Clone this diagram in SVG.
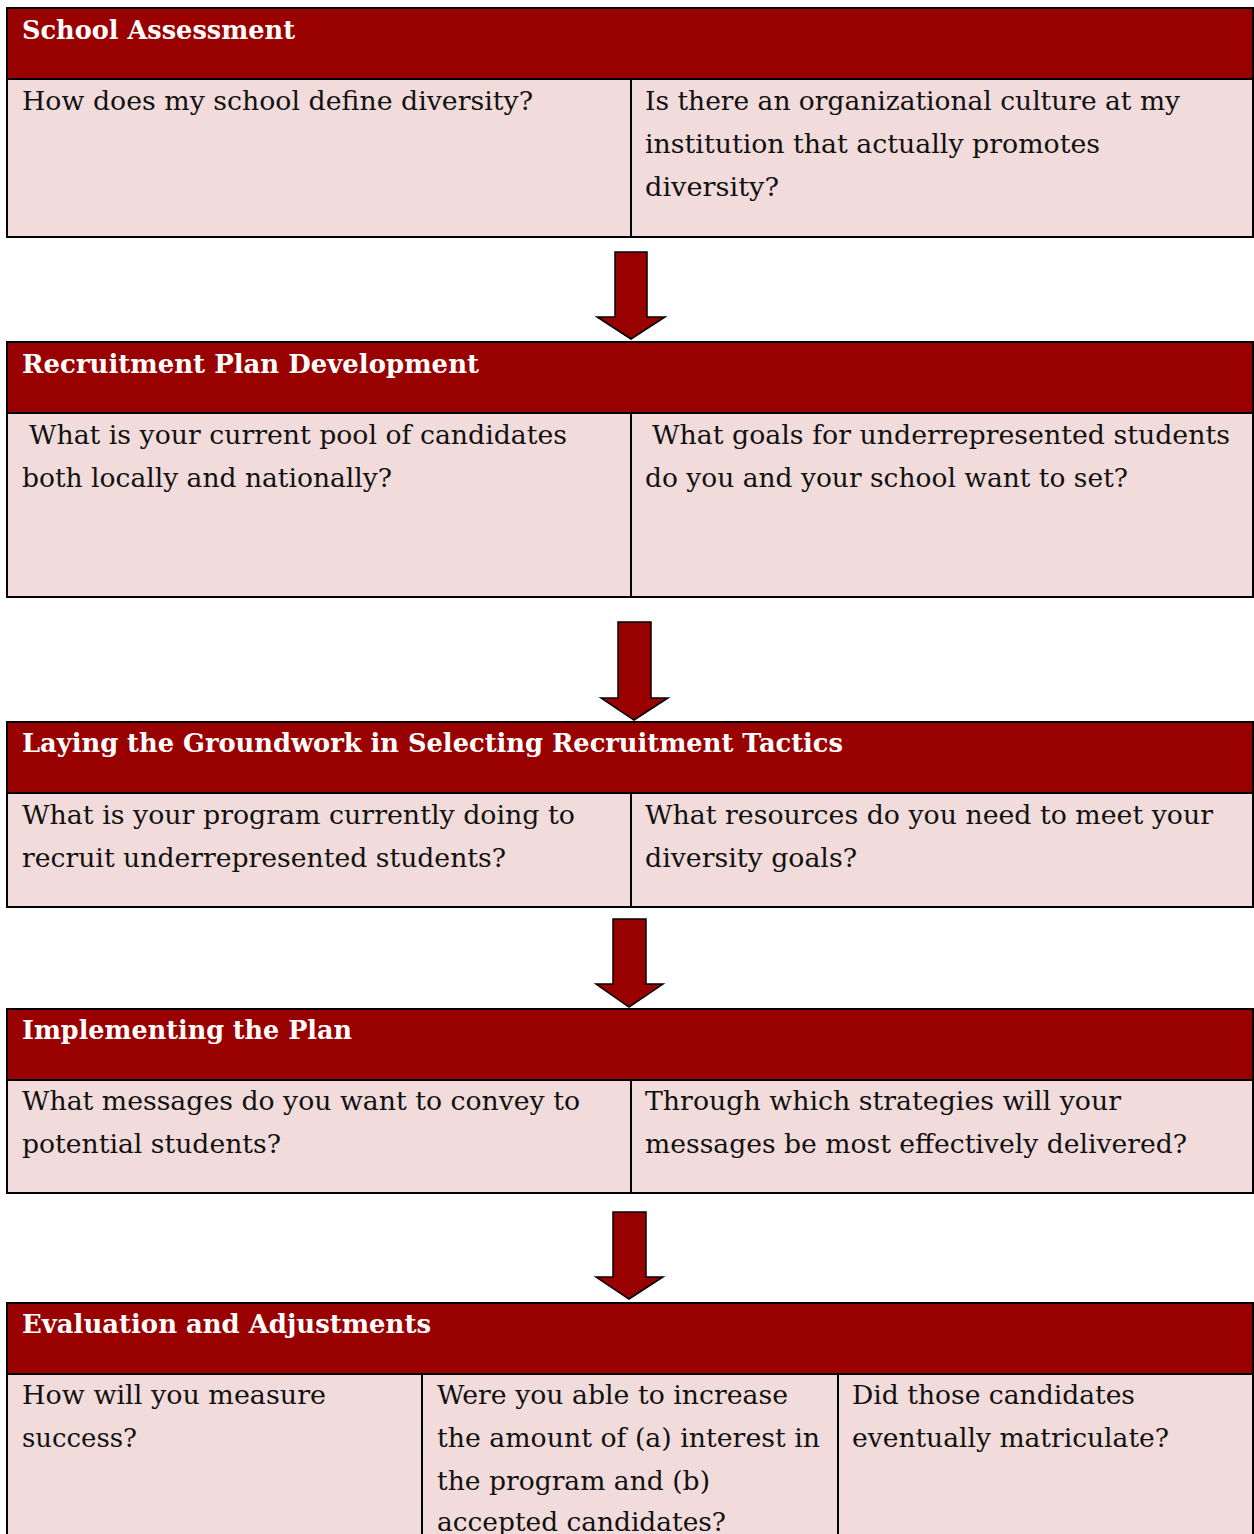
<svg xmlns="http://www.w3.org/2000/svg" width="1254" height="1534" viewBox="0 0 1254 1534">
<style>
.hd{fill:#990000}
.bd{fill:#F2DBDB}
.ln{stroke:#000;stroke-width:2;fill:none}
.ht{font-family:"DejaVu Serif","Liberation Serif",serif;font-weight:bold;font-size:26px;fill:#fff}
.tx{font-family:"DejaVu Serif","Liberation Serif",serif;font-size:26px;fill:#111}
.ar{fill:#990000;stroke:#000;stroke-width:1.5;stroke-linejoin:miter}
</style>
<rect width="1254" height="1534" fill="#fff"/>
<g id="connectors">
<polygon class="ar" points="615,252 647,252 647,317 665,317 631,339 597,317 615,317"/>
<polygon class="ar" points="618,622 651,622 651,698 668,698 634,720 601,698 618,698"/>
<polygon class="ar" points="613,919 646,919 646,984 663,984 629,1007 596,984 613,984"/>
<polygon class="ar" points="613,1212 646,1212 646,1277 663,1277 629,1299 596,1277 613,1277"/>
</g>
<g id="school-assessment">
<rect class="hd" x="7" y="8" width="1246" height="71"/>
<rect class="bd" x="7" y="79" width="1246" height="158"/>
<rect class="ln" x="7" y="8" width="1246" height="229"/>
<line class="ln" x1="7" y1="79" x2="1253" y2="79"/>
<line class="ln" x1="631" y1="79" x2="631" y2="237"/>
<text class="ht" x="22" y="39" textLength="273" lengthAdjust="spacingAndGlyphs">School Assessment</text>
<text class="tx" x="22" y="110" textLength="511" lengthAdjust="spacingAndGlyphs">How does my school define diversity?</text>
<text class="tx" x="645" y="110" textLength="535" lengthAdjust="spacingAndGlyphs">Is there an organizational culture at my</text>
<text class="tx" x="645" y="153" textLength="455" lengthAdjust="spacingAndGlyphs">institution that actually promotes</text>
<text class="tx" x="645" y="196" textLength="134" lengthAdjust="spacingAndGlyphs">diversity?</text>
</g>
<g id="recruitment-plan">
<rect class="hd" x="7" y="342" width="1246" height="71"/>
<rect class="bd" x="7" y="413" width="1246" height="184"/>
<rect class="ln" x="7" y="342" width="1246" height="255"/>
<line class="ln" x1="7" y1="413" x2="1253" y2="413"/>
<line class="ln" x1="631" y1="413" x2="631" y2="597"/>
<text class="ht" x="22" y="373" textLength="457" lengthAdjust="spacingAndGlyphs">Recruitment Plan Development</text>
<text class="tx" x="29" y="444" textLength="538" lengthAdjust="spacingAndGlyphs">What is your current pool of candidates</text>
<text class="tx" x="22" y="487" textLength="370" lengthAdjust="spacingAndGlyphs">both locally and nationally?</text>
<text class="tx" x="652" y="444" textLength="578" lengthAdjust="spacingAndGlyphs">What goals for underrepresented students</text>
<text class="tx" x="645" y="487" textLength="483" lengthAdjust="spacingAndGlyphs">do you and your school want to set?</text>
</g>
<g id="groundwork">
<rect class="hd" x="7" y="722" width="1246" height="71"/>
<rect class="bd" x="7" y="793" width="1246" height="114"/>
<rect class="ln" x="7" y="722" width="1246" height="185"/>
<line class="ln" x1="7" y1="793" x2="1253" y2="793"/>
<line class="ln" x1="631" y1="793" x2="631" y2="907"/>
<text class="ht" x="22" y="752" textLength="821" lengthAdjust="spacingAndGlyphs">Laying the Groundwork in Selecting Recruitment Tactics</text>
<text class="tx" x="22" y="824" textLength="553" lengthAdjust="spacingAndGlyphs">What is your program currently doing to</text>
<text class="tx" x="22" y="867" textLength="484" lengthAdjust="spacingAndGlyphs">recruit underrepresented students?</text>
<text class="tx" x="645" y="824" textLength="568" lengthAdjust="spacingAndGlyphs">What resources do you need to meet your</text>
<text class="tx" x="645" y="867" textLength="212" lengthAdjust="spacingAndGlyphs">diversity goals?</text>
</g>
<g id="implementing">
<rect class="hd" x="7" y="1009" width="1246" height="71"/>
<rect class="bd" x="7" y="1080" width="1246" height="113"/>
<rect class="ln" x="7" y="1009" width="1246" height="184"/>
<line class="ln" x1="7" y1="1080" x2="1253" y2="1080"/>
<line class="ln" x1="631" y1="1080" x2="631" y2="1193"/>
<text class="ht" x="22" y="1039" textLength="330" lengthAdjust="spacingAndGlyphs">Implementing the Plan</text>
<text class="tx" x="22" y="1110" textLength="558" lengthAdjust="spacingAndGlyphs">What messages do you want to convey to</text>
<text class="tx" x="22" y="1153" textLength="259" lengthAdjust="spacingAndGlyphs">potential students?</text>
<text class="tx" x="645" y="1110" textLength="476" lengthAdjust="spacingAndGlyphs">Through which strategies will your</text>
<text class="tx" x="645" y="1153" textLength="542" lengthAdjust="spacingAndGlyphs">messages be most effectively delivered?</text>
</g>
<g id="evaluation">
<rect class="hd" x="7" y="1303" width="1246" height="71"/>
<rect class="bd" x="7" y="1374" width="1246" height="170"/>
<rect class="ln" x="7" y="1303" width="1246" height="250"/>
<line class="ln" x1="7" y1="1374" x2="1253" y2="1374"/>
<line class="ln" x1="422" y1="1374" x2="422" y2="1540"/>
<line class="ln" x1="838" y1="1374" x2="838" y2="1540"/>
<text class="ht" x="22" y="1333" textLength="409" lengthAdjust="spacingAndGlyphs">Evaluation and Adjustments</text>
<text class="tx" x="22" y="1404" textLength="304" lengthAdjust="spacingAndGlyphs">How will you measure</text>
<text class="tx" x="22" y="1447" textLength="115" lengthAdjust="spacingAndGlyphs">success?</text>
<text class="tx" x="437" y="1404" textLength="351" lengthAdjust="spacingAndGlyphs">Were you able to increase</text>
<text class="tx" x="437" y="1447" textLength="383" lengthAdjust="spacingAndGlyphs">the amount of (a) interest in</text>
<text class="tx" x="437" y="1490" textLength="273" lengthAdjust="spacingAndGlyphs">the program and (b)</text>
<text class="tx" x="437" y="1531" textLength="289" lengthAdjust="spacingAndGlyphs">accepted candidates?</text>
<text class="tx" x="852" y="1404" textLength="283" lengthAdjust="spacingAndGlyphs">Did those candidates</text>
<text class="tx" x="852" y="1447" textLength="317" lengthAdjust="spacingAndGlyphs">eventually matriculate?</text>
</g>
</svg>
